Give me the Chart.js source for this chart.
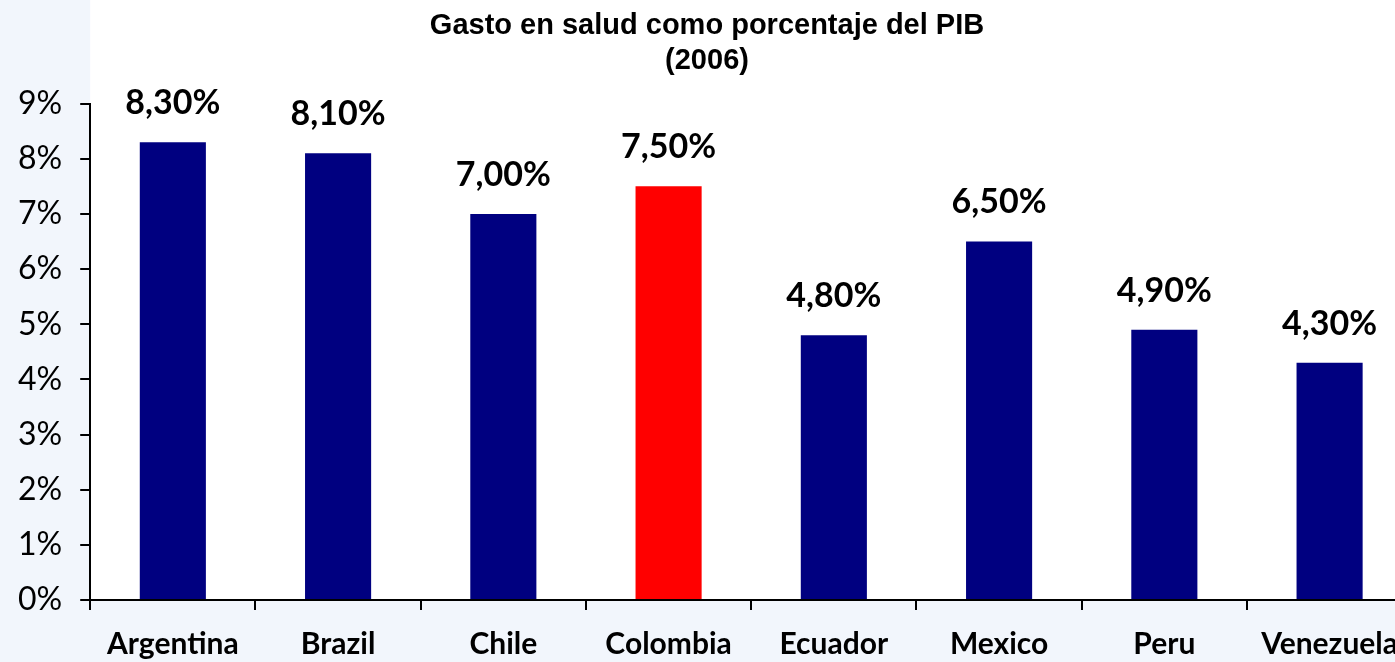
<!DOCTYPE html>
<html>
<head>
<meta charset="utf-8">
<script src="https://cdn.jsdelivr.net/npm/chart.js@4.4.0/dist/chart.umd.min.js"></script>
<style>
  html, body { margin: 0; padding: 0; overflow: hidden; background: #f2f6fc; }
  #wrap { width: 1414px; height: 678px; position: relative; }
</style>
</head>
<body>
<div id="wrap"><canvas id="chart"></canvas></div>
<script>
// data
const countries = ["Argentina", "Brazil", "Chile", "Colombia", "Ecuador", "Mexico", "Peru", "Venezuela"];
const gasto = [8.3, 8.1, 7.0, 7.5, 4.8, 6.5, 4.9, 4.3];
const barColors = ["#000080", "#000080", "#000080", "#ff0000", "#000080", "#000080", "#000080", "#000080"];
const titleLines = ["Gasto en salud como porcentaje del PIB", "(2006)"];

const fmt = (v) => v.toFixed(2).replace(".", ",") + "%";

// light page background, white plot area
const bgPlugin = {
  id: "bg",
  beforeDraw(chart) {
    const ctx = chart.ctx;
    const a = chart.chartArea;
    ctx.save();
    ctx.fillStyle = "#f2f6fc";
    ctx.fillRect(0, 0, chart.width, chart.height);
    ctx.fillStyle = "#ffffff";
    ctx.fillRect(a.left, 0, a.right - a.left, a.bottom);
    ctx.restore();
  }
};

// value labels above bars
const valueLabels = {
  id: "valueLabels",
  afterDatasetsDraw(chart) {
    const ctx = chart.ctx;
    const meta = chart.getDatasetMeta(0);
    ctx.save();
    ctx.font = "bold 34px Lato";
    ctx.fillStyle = "#000";
    ctx.textAlign = "center";
    ctx.textBaseline = "alphabetic";
    meta.data.forEach((bar, i) => {
      ctx.fillText(fmt(gasto[i]), bar.x, bar.y - 28);
    });
    ctx.restore();
  }
};

new Chart(document.getElementById("chart"), {
  type: "bar",
  data: {
    labels: countries,
    datasets: [{
      data: gasto,
      backgroundColor: barColors,
      barPercentage: 0.4,
      categoryPercentage: 1.0
    }]
  },
  options: {
    responsive: true,
    maintainAspectRatio: false,
    animation: false,
    layout: { padding: { left: 0, right: 0, top: 0, bottom: 0 } },
    plugins: {
      legend: { display: false },
      tooltip: { enabled: false },
      title: {
        display: true,
        text: titleLines,
        color: "#000",
        font: { family: "Liberation Sans", size: 29, weight: "bold", lineHeight: 1.2 },
        padding: { top: 9, bottom: 25 }
      }
    },
    scales: {
      x: {
        grid: { drawOnChartArea: false, drawTicks: true, tickLength: 10, color: "#000", lineWidth: 2, offset: true },
        border: { display: true, color: "#000", width: 2 },
        ticks: { color: "#000", padding: 16, font: { family: "Lato", size: 30, weight: "bold" }, maxRotation: 0 }
      },
      y: {
        min: 0,
        max: 9,
        grid: { drawOnChartArea: false, drawTicks: true, tickLength: 10, color: "#000", lineWidth: 2 },
        border: { display: true, color: "#000", width: 2 },
        ticks: {
          stepSize: 1,
          color: "#000",
          padding: 18,
          font: { family: "Lato", size: 32 },
          callback: (v) => v + "%"
        }
      }
    }
  },
  plugins: [bgPlugin, valueLabels]
});
</script>
</body>
</html>
